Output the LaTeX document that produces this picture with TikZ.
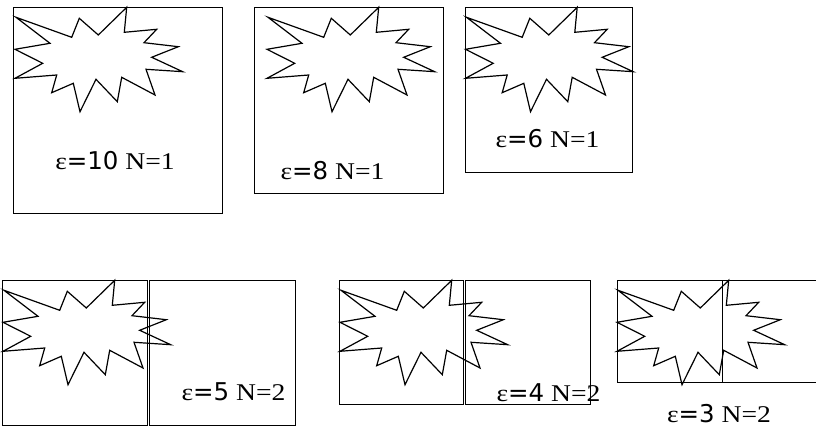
\documentclass[tikz,border=0pt]{standalone}
\usepackage{fontspec}
\setmainfont[FakeStretch=1.15]{Liberation Serif}
\newfontfamily\numfont[Scale=1.02]{DejaVu Sans}
\newcommand\epslabel[2]{ε{\numfont=#1} N=#2}

\begin{document}
\begin{tikzpicture}[
  x=1pt, y=-1pt,
  cell/.style={draw=black,line width=1.2pt,inner sep=0pt,anchor=north west},
  tag/.style={anchor=base,inner sep=0pt,font=\fontsize{24}{28}\selectfont},
  burst/.pic={
    \draw[line width=1.2pt,line join=miter]
      (1,10.3) -- (56.7,30.3) -- (64.3,11.3) -- (83.3,28) -- (111.7,0.3)
      -- (109.3,25.3) -- (141.7,22.3) -- (129,35.7) -- (163.3,39.7)
      -- (136.7,50.3) -- (167.7,64.7) -- (131,62.3) -- (140,88)
      -- (106.7,70.3) -- (102.3,94.7) -- (81,72.3) -- (65,104.7)
      -- (58.3,76.3) -- (36.7,85.7) -- (41.7,68) -- (0,71.3)
      -- (27.7,56.3) -- (0,42.3) -- (35,36.3) -- cycle;
  }
]
  \useasboundingbox (0,0) rectangle (816,427);

  % top row, one cell each
  \node[cell,minimum width=209pt,minimum height=206pt] (cellA) at (13,7) {};
  \node[cell,minimum width=189pt,minimum height=186pt] (cellB) at (254,7) {};
  \node[cell,minimum width=167pt,minimum height=165pt] (cellC) at (465,7) {};
  \pic (burstA) at (15,7) {burst};
  \pic (burstB) at (267,7) {burst};
  \pic (burstC) at (465.5,7) {burst};
  \node[tag] (tagA) at (115,170) {\epslabel{10}{1}};
  \node[tag] (tagB) at (332.5,180) {\epslabel{8}{1}};
  \node[tag] (tagC) at (547.5,148) {\epslabel{6}{1}};

  % bottom row, two cells each
  \node[cell,minimum width=145pt,minimum height=145pt] (cellDl) at (2,280) {};
  \node[cell,minimum width=146pt,minimum height=145pt] (cellDr) at (149,280) {};
  \node[cell,minimum width=124pt,minimum height=124pt] (cellEl) at (339,280) {};
  \node[cell,minimum width=125pt,minimum height=124pt] (cellEr) at (465,280) {};
  \node[cell,minimum width=105pt,minimum height=102pt] (cellFl) at (617,280) {};
  \node[cell,minimum width=96pt,minimum height=102pt] (cellFr) at (722,280) {};
  \pic (burstD) at (3,280) {burst};
  \pic (burstE) at (340,280) {burst};
  \pic (burstF) at (617,280) {burst};
  \node[tag] (tagD) at (233.5,400) {\epslabel{5}{2}};
  \node[tag] (tagE) at (548.5,401) {\epslabel{4}{2}};
  \node[tag] (tagF) at (719,422) {\epslabel{3}{2}};
\end{tikzpicture}
\end{document}
